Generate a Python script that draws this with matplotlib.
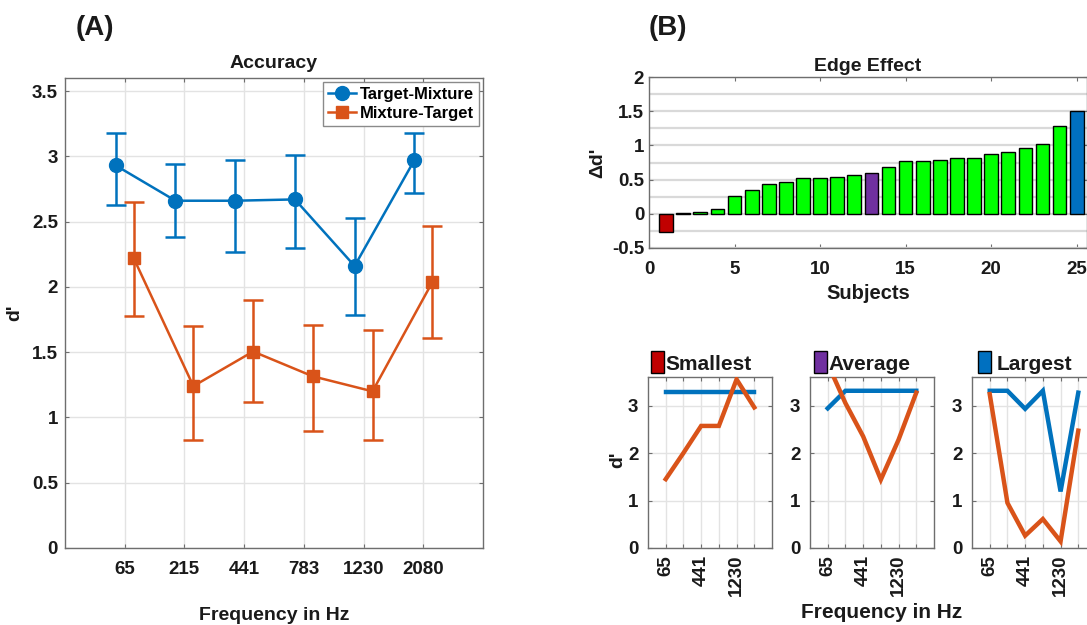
import matplotlib
matplotlib.use("Agg")
import matplotlib.pyplot as plt
from matplotlib.patches import Rectangle
from matplotlib.lines import Line2D
from matplotlib.ticker import MultipleLocator
import numpy as np

plt.rcParams['font.family'] = ['Liberation Sans', 'DejaVu Sans']
plt.rcParams['font.weight'] = 'bold'
plt.rcParams['axes.labelweight'] = 'bold'
plt.rcParams['axes.titleweight'] = 'bold'

# ---------------- data ----------------
freq_labels = ['65', '215', '441', '783', '1230', '2080']

tm_mean = [2.93, 2.66, 2.66, 2.67, 2.16, 2.97]
tm_low = [2.63, 2.38, 2.27, 2.30, 1.785, 2.72]
tm_high = [3.175, 2.945, 2.975, 3.01, 2.53, 3.18]

mt_mean = [2.22, 1.24, 1.505, 1.315, 1.20, 2.035]
mt_low = [1.78, 0.83, 1.115, 0.895, 0.825, 1.61]
mt_high = [2.65, 1.70, 1.90, 1.71, 1.67, 2.465]

subjects = list(range(1, 26))
edge_effect = [-0.27, 0.005, 0.02, 0.07, 0.255, 0.35, 0.44, 0.47, 0.52, 0.53,
               0.54, 0.57, 0.60, 0.69, 0.77, 0.77, 0.78, 0.81, 0.81, 0.88,
               0.91, 0.96, 1.02, 1.28, 1.51]
bar_groups = ['smallest'] + ['other'] * 11 + ['average'] + ['other'] * 11 + ['largest']

small_titles = ['Smallest', 'Average', 'Largest']
small_tm = [[3.29, 3.29, 3.29, 3.29, 3.29, 3.29],
            [2.94, 3.31, 3.31, 3.31, 3.31, 3.31],
            [3.31, 3.31, 2.93, 3.31, 1.19, 3.27]]
small_mt = [[1.45, 2.00, 2.57, 2.57, 3.55, 2.96],
            [3.88, 3.05, 2.35, 1.44, 2.28, 3.27],
            [3.24, 0.95, 0.26, 0.61, 0.14, 2.47]]
small_tick_labels = ['65', '', '441', '', '1230', '']

# ---------------- styles ----------------
BLUE = '#0072BD'
ORANGE = '#D95319'
GROUP_COLORS = {'smallest': '#C00000', 'average': '#7030A0',
                'largest': '#0070C0', 'other': '#00FF00'}
GRID = '#e3e3e3'
SPINE = '#6e6e6e'
TXT = '#1a1a1a'
TICK_FS = 13.5

W, H = 1087, 625
fig = plt.figure(figsize=(W / 100, H / 100), dpi=100)


def px_axes(l, t, r, b):
    return fig.add_axes([l / W, 1 - b / H, (r - l) / W, (b - t) / H])


def style(ax, fs=TICK_FS):
    for s in ax.spines.values():
        s.set_color(SPINE)
        s.set_linewidth(1.0)
    ax.tick_params(direction='in', top=True, right=True, length=3,
                   color=SPINE, labelsize=fs, labelcolor=TXT, width=0.8)
    for lab in ax.get_xticklabels() + ax.get_yticklabels():
        lab.set_fontweight('bold')


# ---------------- Panel A ----------------
axA = px_axes(65, 78, 483, 548)
x = np.arange(1, len(freq_labels) + 1)
off = 0.15
tm_err = [np.array(tm_mean) - np.array(tm_low), np.array(tm_high) - np.array(tm_mean)]
mt_err = [np.array(mt_mean) - np.array(mt_low), np.array(mt_high) - np.array(mt_mean)]
axA.errorbar(x - off, tm_mean, yerr=tm_err, color=BLUE, lw=1.8, marker='o',
             ms=10, capsize=7, capthick=1.8, elinewidth=1.8, zorder=3)
axA.errorbar(x + off, mt_mean, yerr=mt_err, color=ORANGE, lw=1.8, marker='s',
             ms=8, capsize=7, capthick=1.8, elinewidth=1.8, zorder=3)
axA.set_xlim(0, 7)
axA.set_ylim(0, 3.6)
axA.set_xticks(x)
axA.set_xticklabels(freq_labels)
axA.set_yticks(np.arange(0, 3.51, 0.5))
axA.set_yticklabels(['0', '0.5', '1', '1.5', '2', '2.5', '3', '3.5'])
axA.grid(True, color=GRID, lw=1.0, zorder=0)
axA.set_axisbelow(True)
style(axA)
axA.tick_params(axis='x', pad=9)
axA.tick_params(axis='y', pad=5)
axA.set_title('Accuracy', fontsize=14, fontweight='bold', pad=7, color=TXT)
axA.set_xlabel('Frequency in Hz', fontsize=14, fontweight='bold', labelpad=21, color=TXT)
axA.set_ylabel("d'", fontsize=14, fontweight='bold', labelpad=6, color=TXT)
handles = [Line2D([], [], color=BLUE, lw=1.8, marker='o', ms=10),
           Line2D([], [], color=ORANGE, lw=1.8, marker='s', ms=8)]
leg = axA.legend(handles, ['Target-Mixture', 'Mixture-Target'], loc='upper right',
                 prop={'weight': 'bold', 'size': 12},
                 handlelength=1.7, handletextpad=0.2, borderaxespad=0.25,
                 borderpad=0.3, labelspacing=0.25, fancybox=False, framealpha=1)
leg.get_frame().set_edgecolor('#8a8a8a')
leg.get_frame().set_linewidth(1.0)

fig.text(95 / W, 1 - 28 / H, '(A)', fontsize=20, fontweight='bold', ha='center', va='center', color=TXT)
fig.text(668 / W, 1 - 28 / H, '(B)', fontsize=20, fontweight='bold', ha='center', va='center', color=TXT)

# ---------------- Panel B top: bars ----------------
axB = px_axes(649, 77, 1087, 248)
bar_colors = [GROUP_COLORS[g] for g in bar_groups]
axB.bar(subjects, edge_effect, width=0.8, color=bar_colors, edgecolor='black', lw=1.0, zorder=3)
axB.set_xlim(0, 25.6)
axB.set_ylim(-0.5, 2)
axB.set_xticks(np.arange(0, 26, 5))
axB.set_yticks(np.arange(-0.5, 2.01, 0.5))
axB.set_yticklabels(['-0.5', '0', '0.5', '1', '1.5', '2'])
axB.yaxis.set_minor_locator(MultipleLocator(0.25))
axB.grid(True, axis='y', which='both', color='#d9d9d9', lw=1.6, zorder=0)
axB.set_axisbelow(True)
style(axB)
axB.tick_params(axis='y', which='minor', length=0)
axB.tick_params(axis='x', pad=9)
axB.set_title('Edge Effect', fontsize=14, fontweight='bold', pad=4, color=TXT)
axB.set_xlabel('Subjects', fontsize=14.5, fontweight='bold', labelpad=5, color=TXT)
axB.set_ylabel("\u0394d'", fontsize=14, fontweight='bold', labelpad=4, color=TXT)

# ---------------- Panel B bottom: three examples ----------------
lefts = [648, 810, 972]
rect_off = [3, 4, 6]
text_off = [17, 18, 25]
title_colors = [GROUP_COLORS['smallest'], GROUP_COLORS['average'], GROUP_COLORS['largest']]
for i in range(3):
    l = lefts[i]
    ax = px_axes(l, 377, l + 124, 548)
    ax.plot(x, small_tm[i], color=BLUE, lw=3.2, solid_joinstyle='miter', zorder=3)
    ax.plot(x, small_mt[i], color=ORANGE, lw=3.2, solid_joinstyle='miter', zorder=3)
    ax.set_xlim(0, 7)
    ax.set_ylim(0, 3.6)
    ax.set_xticks(x)
    ax.set_xticklabels(small_tick_labels, rotation=90)
    ax.set_yticks([0, 1, 2, 3])
    ax.grid(True, color=GRID, lw=1.0, zorder=0)
    ax.set_axisbelow(True)
    style(ax)
    ax.tick_params(axis='y', pad=7)
    ax.tick_params(axis='x', pad=5)
    rw, rh = 13, 22
    ax.add_patch(Rectangle((rect_off[i] / 124, 1 + 4 / 171), rw / 124, rh / 171,
                           transform=ax.transAxes, facecolor=title_colors[i],
                           edgecolor='black', lw=1.0, clip_on=False))
    ax.text(text_off[i] / 124, 1 + 7 / 171, small_titles[i], transform=ax.transAxes,
            fontsize=15, fontweight='bold', ha='left', va='baseline', color=TXT)

fig.text(618 / W, 1 - 460 / H, "d'", rotation=90, fontsize=14, fontweight='bold',
         ha='center', va='center', color=TXT)
fig.text(882 / W, 1 - 613 / H, 'Frequency in Hz', fontsize=15, fontweight='bold',
         ha='center', va='center', color=TXT)

fig.savefig('out.png', dpi=100)
